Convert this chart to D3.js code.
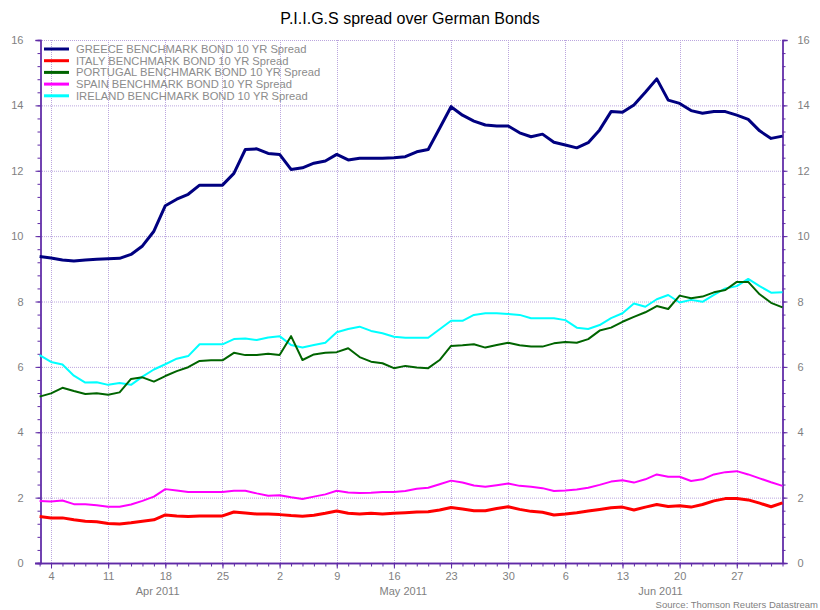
<!DOCTYPE html>
<html>
<head>
<meta charset="utf-8">
<script src="https://cdn.jsdelivr.net/npm/d3@7"></script>
<style>
  body { margin: 0; background: #fff; }
  svg { font-family: Arial, "Liberation Sans", sans-serif; }
</style>
</head>
<body>
<svg id="chart" width="820" height="610"></svg>
<script>
const dates = [
  '2011-04-01',
  '2011-04-04', '2011-04-05', '2011-04-06', '2011-04-07', '2011-04-08',
  '2011-04-11', '2011-04-12', '2011-04-13', '2011-04-14', '2011-04-15',
  '2011-04-18', '2011-04-19', '2011-04-20', '2011-04-21', '2011-04-22',
  '2011-04-25', '2011-04-26', '2011-04-27', '2011-04-28', '2011-04-29',
  '2011-05-02', '2011-05-03', '2011-05-04', '2011-05-05', '2011-05-06',
  '2011-05-09', '2011-05-10', '2011-05-11', '2011-05-12', '2011-05-13',
  '2011-05-16', '2011-05-17', '2011-05-18', '2011-05-19', '2011-05-20',
  '2011-05-23', '2011-05-24', '2011-05-25', '2011-05-26', '2011-05-27',
  '2011-05-30', '2011-05-31', '2011-06-01', '2011-06-02', '2011-06-03',
  '2011-06-06', '2011-06-07', '2011-06-08', '2011-06-09', '2011-06-10',
  '2011-06-13', '2011-06-14', '2011-06-15', '2011-06-16', '2011-06-17',
  '2011-06-20', '2011-06-21', '2011-06-22', '2011-06-23', '2011-06-24',
  '2011-06-27', '2011-06-28', '2011-06-29', '2011-06-30', '2011-07-01'
];

const greece = [
  9.38, 9.33, 9.27, 9.24, 9.27, 9.29, 9.31, 9.32, 9.44, 9.70, 10.15,
  10.93, 11.13, 11.28, 11.56, 11.56, 11.56, 11.92, 12.65, 12.67, 12.53,
  12.50, 12.04, 12.09, 12.23, 12.30, 12.50, 12.33, 12.38, 12.38, 12.38,
  12.40, 12.43, 12.58, 12.65, 13.30, 13.96, 13.70, 13.52, 13.40, 13.37,
  13.37, 13.16, 13.04, 13.12, 12.87, 12.79, 12.70, 12.86, 13.25, 13.81,
  13.79, 14.01, 14.40, 14.81, 14.16, 14.06, 13.84, 13.76, 13.81, 13.81,
  13.70, 13.57, 13.22, 12.99, 13.06
];
const italy = [
  1.42, 1.38, 1.38, 1.32, 1.28, 1.26, 1.21, 1.19, 1.23, 1.28, 1.32,
  1.47, 1.44, 1.42, 1.44, 1.44, 1.44, 1.56, 1.53, 1.50, 1.50,
  1.48, 1.45, 1.43, 1.46, 1.52, 1.59, 1.52, 1.50, 1.52, 1.50,
  1.52, 1.54, 1.56, 1.57, 1.62, 1.70, 1.65, 1.60, 1.60, 1.67,
  1.72, 1.64, 1.58, 1.55, 1.47, 1.50, 1.54, 1.59, 1.64, 1.69,
  1.71, 1.62, 1.71, 1.79, 1.73, 1.75, 1.71, 1.79, 1.90, 1.97,
  1.97, 1.93, 1.83, 1.72, 1.84
];
const portugal = [
  5.09, 5.19, 5.36, 5.26, 5.17, 5.19, 5.15, 5.22, 5.63, 5.68, 5.55,
  5.72, 5.87, 5.99, 6.18, 6.20, 6.20, 6.43, 6.36, 6.36, 6.40,
  6.36, 6.94, 6.21, 6.38, 6.43, 6.45, 6.57, 6.30, 6.16, 6.11,
  5.96, 6.03, 5.98, 5.96, 6.21, 6.64, 6.66, 6.69, 6.59, 6.67,
  6.74, 6.66, 6.62, 6.62, 6.72, 6.76, 6.74, 6.85, 7.11, 7.20,
  7.38, 7.53, 7.67, 7.86, 7.77, 8.18, 8.10, 8.15, 8.28, 8.35,
  8.60, 8.60, 8.22, 7.96, 7.82
];
const spain = [
  1.90, 1.88, 1.91, 1.80, 1.80, 1.77, 1.72, 1.72, 1.79, 1.90, 2.03,
  2.26, 2.22, 2.17, 2.17, 2.17, 2.17, 2.21, 2.21, 2.13, 2.06,
  2.07, 2.01, 1.96, 2.03, 2.10, 2.21, 2.16, 2.14, 2.15, 2.17,
  2.17, 2.20, 2.27, 2.30, 2.41, 2.52, 2.46, 2.37, 2.33, 2.38,
  2.43, 2.36, 2.33, 2.29, 2.20, 2.22, 2.25, 2.30, 2.39, 2.49,
  2.53, 2.46, 2.56, 2.71, 2.64, 2.64, 2.51, 2.56, 2.71, 2.78,
  2.81, 2.71, 2.59, 2.47, 2.36
];
const ireland = [
  6.36, 6.15, 6.07, 5.73, 5.52, 5.53, 5.45, 5.51, 5.45, 5.70, 5.92,
  6.08, 6.25, 6.33, 6.69, 6.69, 6.69, 6.85, 6.87, 6.82, 6.90,
  6.94, 6.67, 6.59, 6.67, 6.74, 7.06, 7.16, 7.23, 7.10, 7.03,
  6.92, 6.89, 6.89, 6.89, 7.15, 7.41, 7.41, 7.59, 7.64, 7.64,
  7.62, 7.59, 7.49, 7.49, 7.49, 7.43, 7.20, 7.16, 7.28, 7.49,
  7.64, 7.94, 7.84, 8.07, 8.20, 7.97, 8.05, 7.99, 8.20, 8.40,
  8.47, 8.69, 8.47, 8.27, 8.28, 8.12
];

const seriesNames = [
  'GREECE BENCHMARK BOND 10 YR Spread',
  'ITALY BENCHMARK BOND 10 YR Spread',
  'PORTUGAL BENCHMARK BOND 10 YR Spread',
  'SPAIN BENCHMARK BOND 10 YR Spread',
  'IRELAND BENCHMARK BOND 10 YR Spread'
];
const yTicks = [0, 2, 4, 6, 8, 10, 12, 14, 16];
const months = ['Apr 2011', 'May 2011', 'Jun 2011'];

const series = [
  { name: seriesNames[0], values: greece, color: '#000080', width: 3 },
  { name: seriesNames[1], values: italy, color: '#ff0000', width: 3 },
  { name: seriesNames[2], values: portugal, color: '#006400', width: 2 },
  { name: seriesNames[3], values: spain, color: '#ff00ff', width: 2 },
  { name: seriesNames[4], values: ireland, color: '#00ffff', width: 2 }
];

const axisColor = '#5f2aa6';
const gridColor = '#bba6de';
const labelColor = '#7f7f7f';

const svg = d3.select('#chart');
const x = d3.scalePoint().domain(dates).range([39.6, 782.5]);
const y = d3.scaleLinear().domain([0, 16]).range([563, 40]);

const mondays = dates.filter(d => new Date(d + 'T00:00:00').getDay() === 1);
const minorY = d3.range(0, 16.01, 0.4).map(v => +v.toFixed(1));

// grid
svg.append('g')
  .selectAll('line')
  .data(yTicks.filter(v => v > 0))
  .enter()
  .append('line')
  .attr('x1', 40).attr('x2', 782)
  .attr('y1', d => y(d) + 0.5).attr('y2', d => y(d) + 0.5)
  .attr('stroke', gridColor)
  .attr('stroke-dasharray', '1,1');

svg.append('g')
  .selectAll('line')
  .data(mondays)
  .enter()
  .append('line')
  .attr('x1', d => Math.round(x(d)) + 0.5).attr('x2', d => Math.round(x(d)) + 0.5)
  .attr('y1', 40).attr('y2', 563)
  .attr('stroke', gridColor)
  .attr('stroke-dasharray', '1,1');

// left axis
const left = svg.append('g').attr('transform', 'translate(40.5,0)');
left.call(d3.axisLeft(y).tickValues(minorY).tickSize(3).tickFormat(''));
left.call(g => g.append('g').call(d3.axisLeft(y).tickValues(yTicks).tickSize(5).tickPadding(12)));

// right axis
const right = svg.append('g').attr('transform', 'translate(782.5,0)');
right.call(d3.axisRight(y).tickValues(minorY).tickSize(3).tickFormat(''));
right.call(g => g.append('g').call(d3.axisRight(y).tickValues(yTicks).tickSize(5).tickPadding(10)));

// bottom axis
const bottom = svg.append('g').attr('transform', 'translate(0,563.5)');
bottom.call(d3.axisBottom(x).tickValues(dates).tickSize(3).tickFormat(''));
bottom.call(g => g.append('g').call(d3.axisBottom(x).tickValues(mondays).tickSize(5).tickPadding(4)
  .tickFormat(d => +d.slice(8))));

svg.selectAll('.domain').attr('stroke', axisColor).attr('stroke-width', 1.3);
svg.selectAll('.tick line').attr('stroke', axisColor);
svg.selectAll('.tick text').attr('fill', labelColor).attr('font-size', 11)
  .attr('font-family', 'Arial, "Liberation Sans", sans-serif');
bottom.selectAll('.domain').attr('d', 'M35,0H782.5');

// month labels
const monthStarts = ['2011-04-01', '2011-05-02', '2011-06-01'];
svg.append('g')
  .selectAll('text')
  .data(months)
  .enter()
  .append('text')
  .attr('x', (d, i) => {
    const a = x(monthStarts[i]);
    const b = i < 2 ? x(monthStarts[i + 1]) : x(dates[dates.length - 1]) + x.step();
    return (a + b) / 2 - 2;
  })
  .attr('y', 595)
  .attr('text-anchor', 'middle')
  .attr('font-size', 11)
  .attr('fill', labelColor)
  .text(d => d);

// lines
const line = d3.line().x((d, i) => x(dates[i])).y(d => y(d));
svg.append('g')
  .selectAll('path')
  .data(series.slice().reverse())
  .enter()
  .append('path')
  .attr('d', s => line(s.values))
  .attr('fill', 'none')
  .attr('stroke', s => s.color)
  .attr('stroke-width', s => s.width)
  .attr('stroke-linejoin', 'round');

// legend
const legend = svg.append('g')
  .selectAll('g')
  .data(series)
  .enter()
  .append('g')
  .attr('transform', (d, i) => `translate(44,${49 + i * 11.7})`);
legend.append('line')
  .attr('x1', 0).attr('x2', 25)
  .attr('stroke', d => d.color)
  .attr('stroke-width', 3);
legend.append('text')
  .attr('x', 32)
  .attr('dy', '0.35em')
  .attr('font-size', 11.2)
  .attr('fill', '#8c8c8c')
  .text(d => d.name);

svg.append('text')
  .attr('x', 410).attr('y', 24)
  .attr('text-anchor', 'middle')
  .attr('font-size', 16)
  .attr('fill', '#000')
  .text('P.I.I.G.S spread over German Bonds');

svg.append('text')
  .attr('x', 818).attr('y', 608)
  .attr('text-anchor', 'end')
  .attr('font-size', 9.5)
  .attr('fill', labelColor)
  .text('Source: Thomson Reuters Datastream');
</script>
</body>
</html>
